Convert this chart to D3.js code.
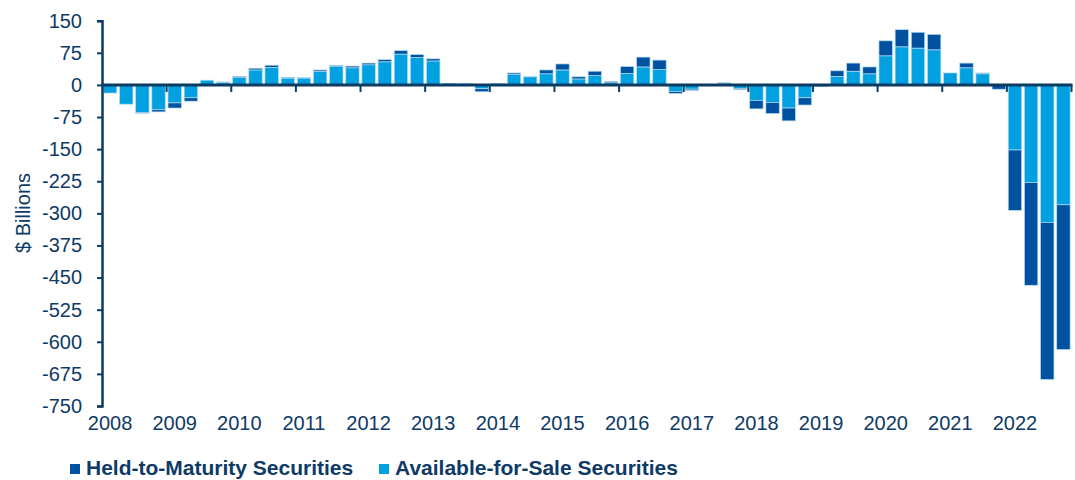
<!DOCTYPE html>
<html>
<head>
<meta charset="utf-8">
<script src="https://cdn.jsdelivr.net/npm/d3@7"></script>
<style>
  body { margin: 0; background: #fff; }
  svg { display: block; font-family: Arial, "Liberation Sans", sans-serif; }
</style>
</head>
<body>
<div id="chart"></div>
<script>
const years = ["2008", "2009", "2010", "2011", "2012", "2013", "2014", "2015",
               "2016", "2017", "2018", "2019", "2020", "2021", "2022"];
const quarters = years.flatMap(y => ["Q1", "Q2", "Q3", "Q4"].map(q => y + q));

// Available-for-Sale, $ billions, quarterly
const afs = [
  -19, -45, -65, -58,   -42, -30, 11, 5,     17, 35, 41, 16,     16, 32, 44, 40,
  47, 54, 72, 64,       56, 4, 3, -9,        3, 25, 19, 26,      35, 14, 22, 5,
  27, 42, 36, -15,      -10, 0, 3, -8,       -36, -41, -54, -30, -2, 20, 32, 26,
  68, 89, 86, 82,       28, 40, 26, -1,      -152, -228, -321, -280
];
// Held-to-Maturity, $ billions, quarterly
const htm = [
  0, 0, -1, -5,         -12, -8, 0, 2,       3, 4, 5, 2,         1, 3, 2, 4,
  4, 5, 8, 7,           5, 0, -1, -7,        0, 3, 1, 9,         14, 5, 10, 3,
  16, 23, 22, -5,       -3, 0, 2, -3,        -20, -26, -30, -17, -2, 13, 19, 16,
  35, 40, 37, 36,       0, 11, 2, -9,        -141, -240, -367, -338
];
const yTicks = [150, 75, 0, -75, -150, -225, -300, -375, -450, -525, -600, -675, -750];

const navy = "#0e3a66";
const axisCol = "#0b3a62";
const colors = { htm: "#0051a0", afs: "#00a0e1" };

const W = 1075, H = 480;
const plotLeft = 102, plotRight = 1071.5, plotTop = 20.7, plotBottom = 406;

const rows = quarters.map((q, i) => ({ q, afs: afs[i], htm: htm[i] }));
const series = d3.stack()
    .keys(["afs", "htm"])
    .offset(d3.stackOffsetDiverging)(rows);

const svg = d3.select("#chart").append("svg")
    .attr("width", W)
    .attr("height", H);

const x = d3.scaleBand()
    .domain(quarters)
    .range([plotLeft, plotRight])
    .paddingInner(0.17)
    .paddingOuter(0.085);

const y = d3.scaleLinear()
    .domain([-750, 150])
    .range([plotBottom, plotTop]);

// bars
svg.append("g")
  .selectAll("g")
  .data(series)
  .join("g")
    .attr("fill", d => colors[d.key])
  .selectAll("rect")
  .data(d => d)
  .join("rect")
    .attr("x", d => x(d.data.q))
    .attr("width", x.bandwidth())
    .attr("y", d => y(Math.max(d[0], d[1])))
    .attr("height", d => Math.abs(y(d[0]) - y(d[1])))
    .attr("stroke", "#b4dcf2")
    .attr("stroke-width", 0.7);

// y axis (plain hyphen for negatives, like the source)
const yAxis = svg.append("g")
    .attr("transform", `translate(${plotLeft},0)`)
    .call(d3.axisLeft(y)
        .tickValues(yTicks)
        .tickFormat(d => String(d))
        .tickSize(5)
        .tickPadding(15));
yAxis.select(".domain").attr("stroke", axisCol).attr("stroke-width", 2.5);
yAxis.selectAll(".tick line").attr("stroke", axisCol).attr("stroke-width", 2);
yAxis.selectAll(".tick text")
    .attr("fill", navy)
    .style("font-size", "20px");

// zero line with year ticks
const yearTicks = quarters.filter((q, i) => i % 4 === 0);
svg.append("g")
  .selectAll("line")
  .data(yearTicks.slice(1).concat(["end"]))
  .join("line")
    .attr("x1", d => d === "end" ? plotRight : x(d) - x.step() * x.paddingInner() / 2)
    .attr("x2", d => d === "end" ? plotRight : x(d) - x.step() * x.paddingInner() / 2)
    .attr("y1", y(0))
    .attr("y2", y(0) + 7)
    .attr("stroke", axisCol)
    .attr("stroke-width", 2);

svg.append("line")
    .attr("x1", plotLeft)
    .attr("x2", plotRight + 1)
    .attr("y1", y(0))
    .attr("y2", y(0))
    .attr("stroke", axisCol)
    .attr("stroke-width", 3);

// year labels under first quarter of each year
svg.append("g")
  .selectAll("text")
  .data(years)
  .join("text")
    .attr("x", (d, i) => x(yearTicks[i]) + x.bandwidth() / 2)
    .attr("y", 430)
    .attr("text-anchor", "middle")
    .attr("fill", navy)
    .style("font-size", "20px")
    .text(d => d);

// y axis title
svg.append("text")
    .attr("transform", `translate(30,213) rotate(-90)`)
    .attr("text-anchor", "middle")
    .attr("fill", navy)
    .style("font-size", "20px")
    .text("$ Billions");

// legend
const legendItems = [
  { key: "htm", label: "Held-to-Maturity Securities", x: 70 },
  { key: "afs", label: "Available-for-Sale Securities", x: 379 }
];
const legend = svg.append("g")
  .selectAll("g")
  .data(legendItems)
  .join("g")
    .attr("transform", d => `translate(${d.x},464)`);
legend.append("rect")
    .attr("width", 10)
    .attr("height", 10)
    .attr("fill", d => colors[d.key]);
legend.append("text")
    .attr("x", 16)
    .attr("y", 11)
    .attr("fill", navy)
    .style("font-size", "21px")
    .style("font-weight", "bold")
    .text(d => d.label);
</script>
</body>
</html>
